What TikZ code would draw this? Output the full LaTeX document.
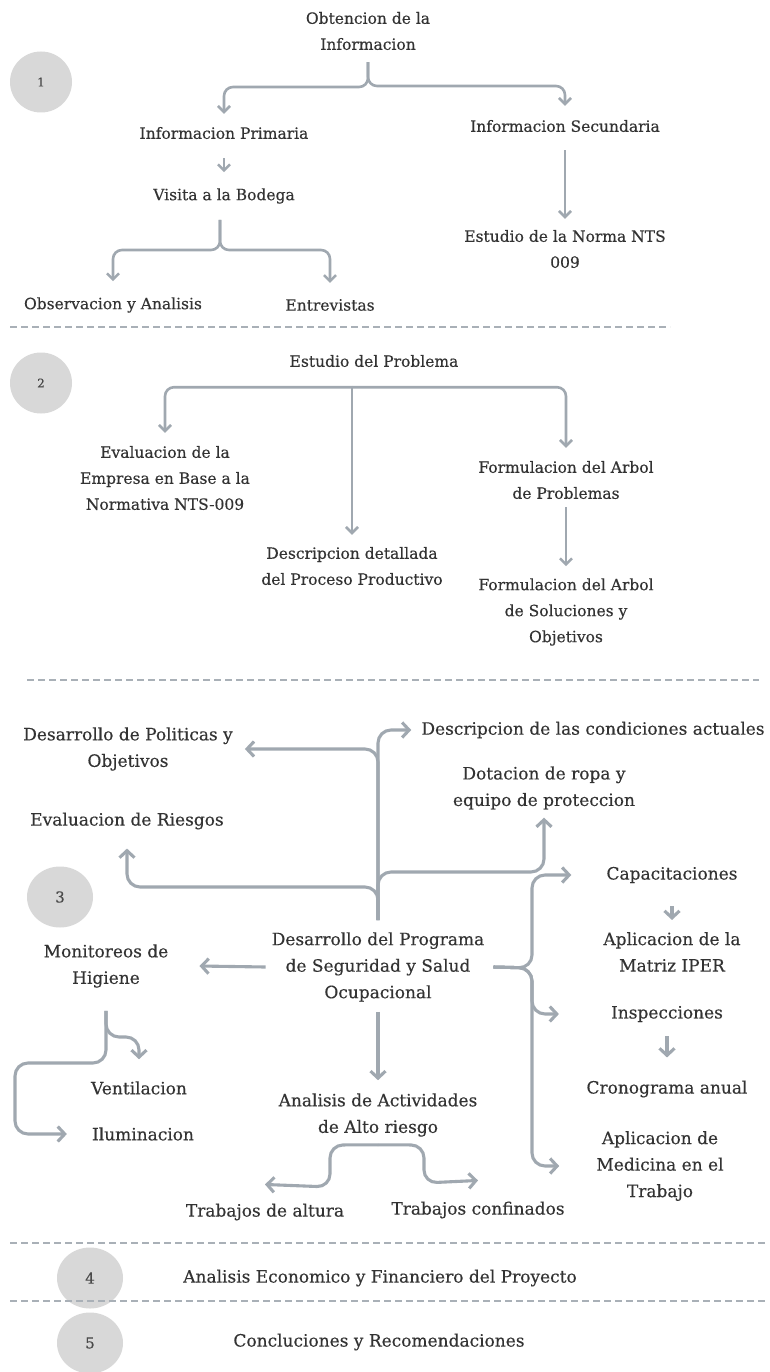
\documentclass[tikz,border=0pt]{standalone}
\usepackage{fontspec}
\setmainfont{DejaVu Serif}[FakeBold=0.35]
\usetikzlibrary{arrows.meta,calc,shapes.geometric}
\definecolor{txt}{HTML}{333333}
\definecolor{arrc}{HTML}{A0A8B0}
\definecolor{circ}{HTML}{D8D8D8}
\definecolor{numc}{HTML}{4A4A4A}
\definecolor{dashc}{HTML}{A9B0B7}
\tikzset{
  t1/.style={font=\fontsize{15.5}{26}\selectfont, text=txt, align=center, inner sep=0pt},
  t3/.style={font=\fontsize{17}{26.5}\selectfont, text=txt, align=center, inner sep=0pt},
  num/.style={ellipse, fill=circ, minimum width=62pt, minimum height=61pt, inner sep=0pt, text=numc, font=\fontsize{12}{14}\selectfont},
  numb/.style={num, minimum width=66pt, minimum height=61pt, font=\fontsize{15}{16}\selectfont},
  a1/.style={draw=arrc, line width=2.6pt, rounded corners=9pt, -{Straight Barb[length=6pt,width=12pt]}},
  a3/.style={draw=arrc, line width=3.1pt, rounded corners=13pt, -{Straight Barb[length=7pt,width=15pt]}},
  sepline/.style={draw=dashc, line width=2.2pt, dash pattern=on 7pt off 4pt},
}
\begin{document}
\begin{tikzpicture}[x=1pt,y=-1pt]
\useasboundingbox[fill=white] (0,0) rectangle (769,1372);

% ---------- Section 1 ----------
\node[num] (c1) at (41,82) {1};
\node[t1] (obt) at (368,31) {Obtencion de la\\Informacion};
\node[t1] (ip) at (224,133) {Informacion Primaria};
\node[t1] (vb) at (224,196) {Visita a la Bodega};
\node[t1] (oa) at (113,305) {Observacion y Analisis};
\node[t1] (en) at (330,305) {Entrevistas};
\node[t1] (is) at (565,126) {Informacion Secundaria};
\node[t1] (nts) at (565,249) {Estudio de la Norma NTS\\009};

\coordinate (s1) at ($(obt.south)+(0,12)$);
\draw[a1] (s1) -- (368,87) -| ([yshift=13pt]ip.north);
\draw[a1] (s1) -- (368,86) -| ([yshift=14pt]is.north);
\draw[a1] ($(ip.south)+(0,19)$) -- ([yshift=16pt]vb.north);
\coordinate (s2) at ($(vb.south)+(-4,16)$);
\draw[a1] (s2) -- (220,250) -| ([yshift=16pt]oa.north);
\draw[a1] (s2) -- (220,250) -| ([yshift=16pt]en.north);
\draw[a1] ($(is.south)+(0,18)$) -- ([yshift=11pt]nts.north);

\draw[sepline] (10,327) -- (670,327);

% ---------- Section 2 ----------
\node[num] (c2) at (41,383) {2};
\node[t1] (ep) at (374,361) {Estudio del Problema};
\node[t1] (ev) at (165,478) {Evaluacion de la\\Empresa en Base a la\\Normativa NTS-009};
\node[t1] (fp) at (566,480) {Formulacion del Arbol\\de Problemas};
\node[t1] (dd) at (352,566) {Descripcion detallada\\del Proceso Productivo};
\node[t1] (fs) at (566,612) {Formulacion del Arbol\\de Soluciones y\\Objetivos};

\coordinate (j2) at ($(ep.south)+(-22,20)$);
\draw[a1] (j2) -| ([yshift=13pt]ev.north);
\draw[a1] (j2) -| ([yshift=13pt]fp.north);
\draw[a1] (j2) -- ([yshift=12pt]dd.north);
\draw[a1] ($(fp.south)+(0,8)$) -- ([yshift=12pt]fs.north);

\draw[sepline] (27,680) -- (759,680);

% ---------- Section 3 ----------
\node[numb] (c3) at (60,897) {3};
\node[t3] (dp) at (128,749) {Desarrollo de Politicas y\\Objetivos};
\node[t3] (dc) at (593,730) {Descripcion de las condiciones actuales};
\node[t3] (dr) at (544,788) {Dotacion de ropa y\\equipo de proteccion};
\node[t3] (er) at (127,821) {Evaluacion de Riesgos};
\node[t3] (prog) at (378,967) {Desarrollo del Programa\\de Seguridad y Salud\\Ocupacional};
\node[t3] (mh) at (106,966) {Monitoreos de\\Higiene};
\node[t3] (cap) at (672,875) {Capacitaciones};
\node[t3] (mi) at (672,952) {Aplicacion de la\\Matriz IPER};
\node[t3] (ins) at (667,1014) {Inspecciones};
\node[t3] (cro) at (667,1089) {Cronograma anual};
\node[t3] (med) at (660,1166) {Aplicacion de\\Medicina en el\\Trabajo};
\node[t3] (aa) at (378,1115) {Analisis de Actividades\\de Alto riesgo};
\node[t3] (ta) at (265,1212) {Trabajos de altura};
\node[t3] (tc) at (478,1210) {Trabajos confinados};
\node[t3] (ve) at (139,1088) {Ventilacion};
\node[t3] (il) at (143,1134) {Iluminacion};

\coordinate (pt) at ($(prog.north)+(0,-12)$);
\draw[a3] (pt) |- ([xshift=-10pt]dc.west);
\draw[a3] (pt) |- ([xshift=12pt]dp.east);
\draw[a3] (pt) |- (450,872) -| ([yshift=-8pt]dr.south);
\draw[a3] (pt) |- (200,887) -| ([yshift=-19pt]er.south);

\draw[a3] ([xshift=-6pt]prog.west) -- ([xshift=31pt]mh.east);

\coordinate (rb) at ([xshift=9pt]prog.east);
\draw[a3] (rb) -- (532,968) |- ([xshift=-35pt]cap.west);
\draw[a3] (rb) -- (532,968) |- ([xshift=-52pt]ins.west);
\draw[a3] (rb) -- (532,968) |- ([xshift=-37pt]med.west);

\draw[a3] ($(cap.south)+(0,23)$) -- ([yshift=12pt]mi.north);
\draw[a3] ($(ins.south)+(0,14)$) -- ([yshift=23pt]cro.north);

\draw[a3] ($(prog.south)+(0,10)$) -- ([yshift=13pt]aa.north);
\coordinate (bt) at ($(aa.south)+(0,8)$);
\draw[a3] (bt) -- (330,1145) -- (330,1187) -- ([yshift=19pt]ta.north);
\draw[a3] (bt) -- (424,1145) -- (424,1183) -- ([yshift=21pt]tc.north);

\coordinate (mb) at ($(mh.south)+(0,23)$);
\draw[a3] (mb) -- (106,1037) -| ([yshift=22pt]ve.north);
\draw[a3] (mb) -- (106,1063) -- (15,1063) |- ([xshift=-25pt]il.west);

\draw[sepline] (10,1243) -- (768,1243);

% ---------- Section 4 ----------
\node[numb] (c4) at (90,1278) {4};
\node[t3] (ae) at (380,1278) {Analisis Economico y Financiero del Proyecto};

\draw[sepline] (10,1301) -- (768,1301);

% ---------- Section 5 ----------
\node[numb] (c5) at (90,1343) {5};
\node[t3] (cr) at (379,1342) {Concluciones y Recomendaciones};
\end{tikzpicture}
\end{document}
